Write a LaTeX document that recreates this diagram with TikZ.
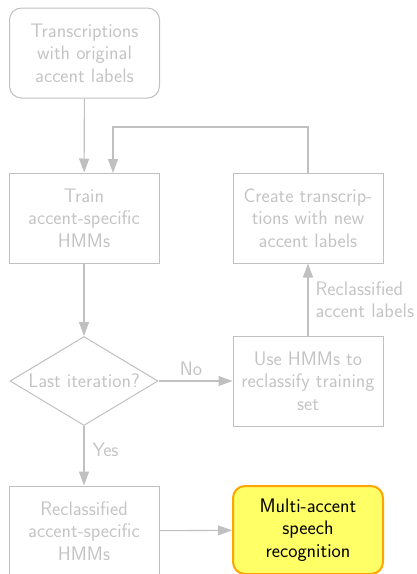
\documentclass[tikz,border=0pt]{standalone}
\usepackage{fontspec}
\usetikzlibrary{shapes.geometric,arrows.meta}
\definecolor{ln}{RGB}{192,192,192}
\definecolor{tx}{RGB}{196,196,196}
\definecolor{yfill}{RGB}{255,255,102}
\definecolor{oline}{RGB}{255,165,0}
\begin{document}
\begin{tikzpicture}[x=1pt,y=-1pt,
  every node/.style={font=\sffamily\fontsize{19.6}{22.5}\selectfont},
  box/.style={draw=ln, line width=1pt, text=tx, minimum width=150pt, minimum height=90pt, align=center, inner sep=0pt},
  rbox/.style={box, rounded corners=12pt},
  dia/.style={draw=ln, line width=1pt, text=tx, diamond, aspect=1.66, minimum width=148pt, minimum height=89pt, inner sep=0pt},
  goal/.style={draw=oline, fill=yfill, line width=2pt, text=black, rounded corners=12pt, minimum width=150pt, minimum height=88pt, align=center, inner sep=0pt},
  arr/.style={draw=ln, line width=1.1pt, -{Triangle[length=14pt,width=10pt]}},
  lbl/.style={text=tx, inner sep=0pt}]
\useasboundingbox (0,0) rectangle (417,574);
\node[rbox] (orig) at (84.5,53) {Transcriptions\\with original\\accent labels};
\node[box] (train) at (84,218) {Train\\accent-specific\\HMMs};
\node[dia] (last) at (84,381) {Last iteration?};
\node[box] (recl) at (84,531) {Reclassified\\accent-specific\\HMMs};
\node[goal] (multi) at (308,530) {Multi-accent\\speech\\recognition};
\node[box] (use) at (308,381) {Use HMMs to\\reclassify training\\set};
\node[box] (create) at (308,218) {Create transcrip-\\tions with new\\accent labels};
\coordinate (c1) at (308,127);
\coordinate (c2) at (113,127);
\coordinate (c3) at (113,173);
\draw[arr] (orig) -- (train);
\draw[arr] (create.north) -- (c1) -- (c2) -- (c3);
\draw[arr] (train) -- (last);
\draw[arr] (last) -- node[lbl, above=5pt, pos=0.44] {No} (use);
\draw[arr] (last) -- node[lbl, right=8pt, pos=0.40] {Yes} (recl);
\draw[arr] (use) -- node[lbl, right=7pt, align=left] {Reclassified\\accent labels} (create);
\draw[arr] (recl) -- (multi);
\end{tikzpicture}
\end{document}
